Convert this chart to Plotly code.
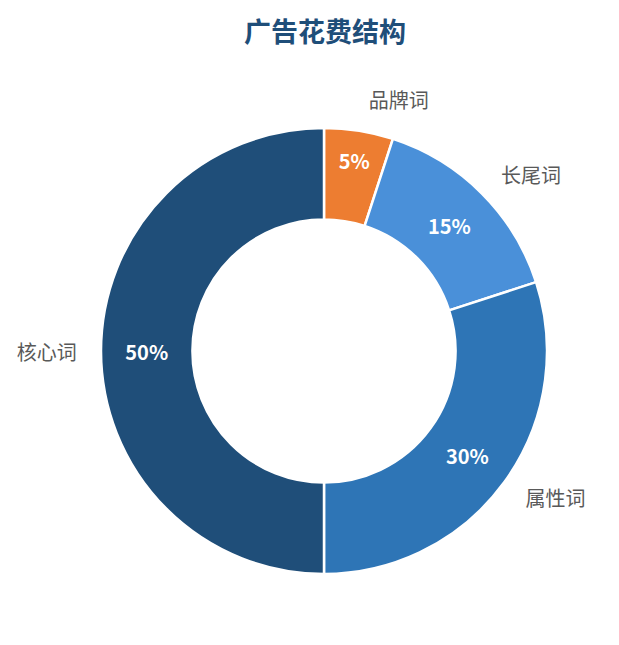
import plotly.graph_objects as go

FONT = "Noto Sans CJK SC"
TITLE_BLUE = "#1F4E79"
LABEL_GRAY = "#595959"

labels = ["品牌词", "长尾词", "属性词", "核心词"]
values = [5, 15, 30, 50]
colors = ["#ED7D31", "#4A90D9", "#2E75B6", "#1F4E79"]

# ring sits a little inside the label pie so the names stand off the edge
RING_INSET = 17 / 480

fig = go.Figure()

# ring with the percentages inside
fig.add_trace(
    go.Pie(
        labels=labels,
        values=values,
        hole=0.59,
        sort=False,
        direction="clockwise",
        rotation=0,
        domain=dict(x=[RING_INSET, 1 - RING_INSET], y=[RING_INSET, 1 - RING_INSET]),
        marker=dict(colors=colors, line=dict(color="white", width=2.5)),
        texttemplate="%{percent:.0%}",
        textposition="inside",
        insidetextorientation="horizontal",
        textfont=dict(family=FONT, size=20, color="white", weight="bold"),
        hoverinfo="label+percent",
        showlegend=False,
    )
)

# transparent, slightly bigger copy, only for the category names outside
fig.add_trace(
    go.Pie(
        labels=labels,
        values=values,
        hole=0.59,
        sort=False,
        direction="clockwise",
        rotation=0,
        domain=dict(x=[0, 1], y=[0, 1]),
        marker=dict(colors=["rgba(0,0,0,0)"] * len(values), line=dict(width=0)),
        texttemplate="%{label}",
        textposition="outside",
        textfont=dict(family=FONT, size=20, color=LABEL_GRAY),
        hoverinfo="skip",
        showlegend=False,
    )
)

fig.update_layout(
    width=619,
    height=645,
    title=dict(
        text="<b>广告花费结构</b>",
        x=0.512,
        xanchor="center",
        y=0.962,
        yanchor="middle",
        font=dict(family=FONT, size=27, color=TITLE_BLUE),
    ),
    margin=dict(l=76, r=63, t=103, b=62),
    paper_bgcolor="white",
    plot_bgcolor="white",
    font=dict(family=FONT),
)

fig.write_html("out.html")
